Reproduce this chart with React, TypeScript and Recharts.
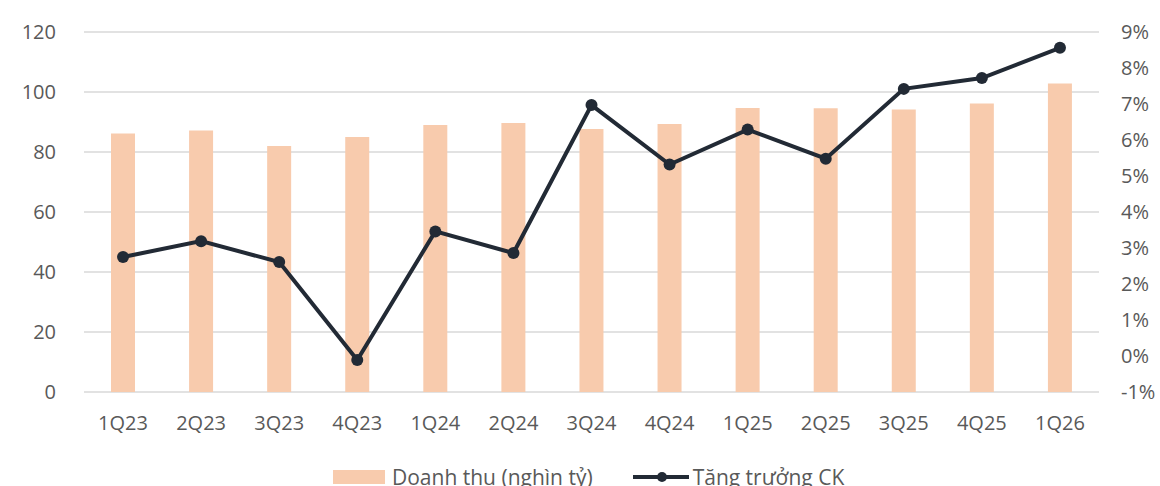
import { ComposedChart, Bar, Line, XAxis, YAxis, CartesianGrid, Legend } from 'recharts';

const quarters = ['1Q23', '2Q23', '3Q23', '4Q23', '1Q24', '2Q24', '3Q24', '4Q24', '1Q25', '2Q25', '3Q25', '4Q25', '1Q26'];
const revenue = [86.2, 87.2, 82, 85, 89, 89.7, 87.7, 89.3, 94.7, 94.6, 94.2, 96.2, 102.8];
const growth = [2.75, 3.19, 2.61, -0.11, 3.46, 2.86, 6.97, 5.32, 6.29, 5.48, 7.42, 7.72, 8.56];
const leftTicks = [0, 20, 40, 60, 80, 100, 120];
const rightTicks = [-1, 0, 1, 2, 3, 4, 5, 6, 7, 8, 9];

const data = quarters.map((q, i) => ({ q, revenue: revenue[i], growth: growth[i] }));

const FONT = '"Open Sans", sans-serif';
const TEXT = '#595959';
const BAR = '#f8cbad';
const LINE = '#222a35';

function LegendBox() {
  return (
    <div style={{ display: 'flex', alignItems: 'center', fontFamily: FONT, fontSize: 21, color: TEXT, height: 28, whiteSpace: 'nowrap' }}>
      <svg width={52} height={14} style={{ marginRight: 7 }}>
        <rect x={0} y={0} width={52} height={14} fill={BAR} />
      </svg>
      <span style={{ marginRight: 40 }}>Doanh thu (nghìn tỷ)</span>
      <svg width={56} height={12} style={{ marginRight: 4 }}>
        <line x1={0} y1={6} x2={56} y2={6} stroke={LINE} strokeWidth={4} strokeLinecap="round" />
        <circle cx={29} cy={6} r={5} fill={LINE} />
      </svg>
      <span>Tăng trưởng CK</span>
    </div>
  );
}

export default function App() {
  return (
    <div style={{ position: 'absolute', left: 0, top: 0, width: 1160, height: 486, background: '#fff', overflow: 'hidden' }}>
      <ComposedChart width={1160} height={486} data={data} margin={{ top: 32, right: 0, bottom: 0, left: 0 }}>
        <CartesianGrid yAxisId="left" vertical={false} stroke="#d9d9d9" strokeWidth={1.5} />
        <XAxis
          dataKey="q"
          axisLine={false}
          tickLine={false}
          tickMargin={18}
          height={66}
          tick={{ fill: TEXT, fontSize: 20, fontFamily: FONT }}
        />
        <YAxis
          yAxisId="left"
          domain={[0, 120]}
          ticks={leftTicks}
          width={84}
          axisLine={false}
          tickLine={false}
          tickMargin={22}
          tick={{ fill: TEXT, fontSize: 20, fontFamily: FONT }}
        />
        <YAxis
          yAxisId="right"
          orientation="right"
          domain={[-1, 9]}
          ticks={rightTicks}
          width={61}
          axisLine={false}
          tickLine={false}
          tickMargin={16}
          tickFormatter={(v) => `${v}%`}
          tick={{ fill: TEXT, fontSize: 20, fontFamily: FONT, textAnchor: 'start' }}
        />
        <Bar yAxisId="left" dataKey="revenue" fill={BAR} barSize={24} isAnimationActive={false} />
        <Line
          yAxisId="right"
          dataKey="growth"
          stroke={LINE}
          strokeWidth={4}
          dot={{ r: 6, fill: LINE, stroke: LINE, strokeWidth: 0 }}
          isAnimationActive={false}
        />
        <Legend
          content={() => <LegendBox />}
          wrapperStyle={{ position: 'absolute', left: 333, top: 463, width: 'auto', height: 28 }}
        />
      </ComposedChart>
    </div>
  );
}
